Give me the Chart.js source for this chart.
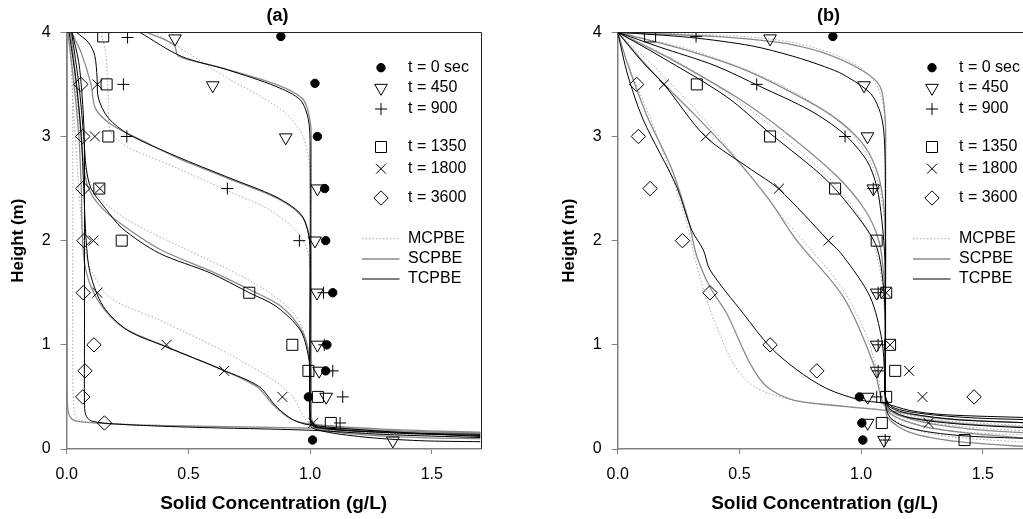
<!DOCTYPE html>
<html>
<head>
<meta charset="utf-8">
<script src="https://cdn.jsdelivr.net/npm/chart.js"></script>
<style>
  html, body { margin: 0; padding: 0; background: #fff; overflow: hidden; }
  #wrap { position: relative; width: 1023px; height: 519px; overflow: hidden; }
  canvas { position: absolute; top: 0; }
  #chart-a { left: 0; }
  #chart-b { left: 551px; }
</style>
</head>
<body>
<div id="wrap">
  <canvas id="chart-a" width="510" height="519"></canvas>
  <canvas id="chart-b" width="510" height="519"></canvas>
</div>
<script>
const FONT = "'Liberation Sans', Arial, Helvetica, sans-serif";

const xTickValues = [0, 0.5, 1.0, 1.5];
const yTickValues = [0, 1, 2, 3, 4];
const timeLabels = ['t = 0 sec', 't = 450', 't = 900', 't = 1350', 't = 1800', 't = 3600'];
const modelLabels = ['MCPBE', 'SCPBE', 'TCPBE'];

// ---- panel (a): measured points [conc, height]
const a_t0 = [[0.88, 3.96], [1.02, 3.51], [1.03, 3.0], [1.06, 2.5], [1.064, 2.0], [1.093, 1.5], [1.069, 1.0], [1.064, 0.75], [0.993, 0.5], [1.01, 0.086]];
const a_t450 = [[0.445, 3.94], [0.60, 3.49], [0.90, 2.99], [1.03, 2.5], [1.02, 2.0], [1.028, 1.5], [1.03, 1.0], [1.037, 0.75], [1.066, 0.5], [1.34, 0.08]];
const a_t900 = [[0.25, 3.95], [0.233, 3.5], [0.247, 3.0], [0.66, 2.5], [0.956, 2.0], [1.055, 1.5], [1.058, 1.0], [1.093, 0.75], [1.134, 0.5], [1.123, 0.25]];
const a_t1350 = [[0.15, 3.96], [0.164, 3.5], [0.171, 3.0], [0.134, 2.5], [0.226, 2.0], [0.75, 1.5], [0.927, 1.0], [0.993, 0.75], [1.032, 0.5], [1.085, 0.25]];
const a_t1800 = [[0.126, 3.5], [0.116, 3.0], [0.136, 2.5], [0.11, 2.0], [0.126, 1.5], [0.41, 1.0], [0.647, 0.75], [0.886, 0.5], [1.013, 0.25]];
const a_t3600 = [[0.058, 3.5], [0.066, 3.0], [0.066, 2.5], [0.071, 2.0], [0.068, 1.5], [0.112, 1.0], [0.075, 0.75], [0.066, 0.5], [0.155, 0.25]];

// ---- panel (a): model curves
const a450mc = [[0.36, 4.0], [0.5, 3.8], [0.66, 3.56], [0.8, 3.38], [0.9, 3.22], [0.96, 3.05], [0.99, 2.85], [1.0, 2.6], [1.0, 0.3], [1.02, 0.2], [1.3, 0.15], [1.7, 0.13]];
const a900mc = [[0.14, 4.0], [0.16, 3.8], [0.17, 3.4], [0.18, 3.05], [0.25, 2.9], [0.45, 2.7], [0.66, 2.48], [0.83, 2.3], [0.94, 2.1], [0.99, 1.9], [1.0, 1.6], [1.0, 0.3], [1.02, 0.2], [1.3, 0.15], [1.7, 0.13]];
const a1350mc = [[0.02, 4.0], [0.04, 3.4], [0.06, 2.9], [0.09, 2.6], [0.14, 2.4], [0.25, 2.2], [0.45, 1.96], [0.65, 1.74], [0.82, 1.52], [0.94, 1.28], [0.99, 1.0], [1.0, 0.7], [1.0, 0.3], [1.03, 0.2], [1.4, 0.15], [1.7, 0.13]];
const a1800mc = [[0.01, 4.0], [0.03, 3.2], [0.05, 2.5], [0.07, 2.0], [0.1, 1.72], [0.18, 1.45], [0.38, 1.24], [0.66, 0.92], [0.85, 0.66], [0.93, 0.5], [0.97, 0.32], [1.0, 0.25], [1.3, 0.18], [1.7, 0.14]];
const a3600mc = [[0.02, 4.0], [0.025, 3.0], [0.025, 2.0], [0.025, 1.0], [0.03, 0.38], [0.05, 0.28], [0.15, 0.25], [0.5, 0.22], [1.0, 0.2], [1.3, 0.16], [1.7, 0.14]];

const a450sc = [[0.33, 4.0], [0.44, 3.88], [0.46, 3.77], [0.62, 3.67], [0.86, 3.5], [0.97, 3.36], [1.0, 3.15], [1.005, 2.9], [1.005, 0.3], [1.02, 0.2], [1.2, 0.14], [1.45, 0.11], [1.7, 0.1]];
const a900sc = [[0.02, 4.0], [0.06, 3.8], [0.1, 3.5], [0.118, 3.27], [0.186, 3.11], [0.32, 2.95], [0.46, 2.79], [0.66, 2.6], [0.87, 2.4], [0.97, 2.22], [1.0, 2.0], [1.005, 1.8], [1.005, 0.3], [1.02, 0.21], [1.3, 0.17], [1.7, 0.16]];
const a1350sc = [[0.015, 4.0], [0.04, 3.5], [0.06, 3.0], [0.07, 2.7], [0.09, 2.5], [0.13, 2.35], [0.2, 2.2], [0.38, 1.92], [0.59, 1.71], [0.76, 1.52], [0.88, 1.37], [0.97, 1.12], [1.0, 0.85], [1.005, 0.6], [1.005, 0.3], [1.03, 0.22], [1.4, 0.17], [1.7, 0.15]];
const a1800sc = [[0.005, 4.0], [0.03, 3.5], [0.05, 3.0], [0.06, 2.5], [0.065, 2.0], [0.08, 1.7], [0.13, 1.42], [0.23, 1.17], [0.4, 0.99], [0.63, 0.77], [0.78, 0.6], [0.85, 0.42], [0.92, 0.29], [1.0, 0.24], [1.3, 0.19], [1.7, 0.16]];
const a3600sc = [[0.002, 4.0], [0.002, 3.0], [0.002, 2.0], [0.002, 1.0], [0.004, 0.4], [0.02, 0.29], [0.06, 0.26], [0.3, 0.23], [1.0, 0.2], [1.3, 0.17], [1.7, 0.15]];

const a450tc = [[0.30, 4.0], [0.47, 3.77], [0.66, 3.64], [0.86, 3.48], [0.96, 3.35], [0.993, 3.16], [1.0, 2.9], [1.0, 1.0], [1.0, 0.3], [1.01, 0.2], [1.2, 0.12], [1.45, 0.08], [1.7, 0.07]];
const a900tc = [[0.04, 4.0], [0.09, 3.9], [0.115, 3.78], [0.125, 3.56], [0.13, 3.37], [0.17, 3.18], [0.255, 3.02], [0.45, 2.81], [0.66, 2.61], [0.86, 2.42], [0.96, 2.26], [0.99, 2.1], [1.0, 1.9], [1.0, 0.3], [1.02, 0.21], [1.3, 0.16], [1.7, 0.14]];
const a1350tc = [[0.02, 4.0], [0.05, 3.5], [0.07, 3.0], [0.08, 2.7], [0.1, 2.5], [0.159, 2.31], [0.227, 2.12], [0.38, 1.88], [0.59, 1.69], [0.75, 1.5], [0.86, 1.37], [0.96, 1.14], [0.993, 0.89], [1.0, 0.7], [1.0, 0.3], [1.03, 0.21], [1.4, 0.15], [1.7, 0.13]];
const a1800tc = [[0.01, 4.0], [0.04, 3.5], [0.06, 3.0], [0.07, 2.5], [0.08, 2.0], [0.096, 1.69], [0.15, 1.37], [0.25, 1.14], [0.41, 0.98], [0.64, 0.76], [0.79, 0.6], [0.86, 0.41], [0.93, 0.28], [1.0, 0.23], [1.3, 0.17], [1.7, 0.12]];
const a3600tc = [[0.022, 4.0], [0.049, 3.72], [0.063, 3.4], [0.072, 3.0], [0.073, 2.0], [0.073, 1.0], [0.073, 0.45], [0.078, 0.33], [0.1, 0.27], [0.2, 0.24], [0.5, 0.21], [1.0, 0.18], [1.3, 0.14], [1.7, 0.11]];

// ---- panel (b): measured points
const b_t0 = [[0.884, 3.96], [0.993, 0.5], [1.003, 0.25], [1.007, 0.086]];
const b_t450 = [[0.626, 3.94], [1.012, 3.49], [1.026, 3.0], [1.05, 2.5], [1.064, 1.5], [1.064, 1.0], [1.064, 0.75], [1.027, 0.5], [1.027, 0.25], [1.094, 0.086]];
const b_t900 = [[0.322, 3.96], [0.571, 3.5], [0.934, 3.0], [1.05, 2.5], [1.07, 1.5], [1.07, 1.0], [1.07, 0.75], [1.064, 0.5], [1.099, 0.086]];
const b_t1350 = [[0.133, 3.96], [0.325, 3.5], [0.626, 3.0], [0.893, 2.5], [1.064, 2.0], [1.103, 1.5], [1.119, 1.0], [1.14, 0.75], [1.103, 0.5], [1.085, 0.25], [1.425, 0.086]];
const b_t1800 = [[0.19, 3.5], [0.362, 3.0], [0.663, 2.5], [0.866, 2.0], [1.103, 1.5], [1.119, 1.0], [1.197, 0.75], [1.252, 0.5], [1.277, 0.25]];
const b_t3600 = [[0.078, 3.5], [0.085, 3.0], [0.133, 2.5], [0.266, 2.0], [0.379, 1.5], [0.626, 1.0], [0.818, 0.75], [1.464, 0.5]];

// ---- panel (b): model curves
const b450mc = [[0, 4], [0.45, 3.97], [0.7, 3.91], [0.9, 3.78], [1.03, 3.6], [1.08, 3.4], [1.1, 3.1], [1.1, 2.0], [1.1, 0.45], [1.12, 0.3], [1.3, 0.14], [1.7, 0.06]];
const b900mc = [[0, 4], [0.3, 3.83], [0.55, 3.62], [0.76, 3.38], [0.93, 3.1], [1.03, 2.8], [1.08, 2.45], [1.1, 2.0], [1.1, 0.5], [1.13, 0.32], [1.35, 0.18], [1.7, 0.13]];
const b1350mc = [[0, 4], [0.26, 3.7], [0.52, 3.3], [0.73, 2.9], [0.9, 2.52], [1.0, 2.2], [1.06, 1.9], [1.09, 1.5], [1.1, 1.0], [1.1, 0.5], [1.14, 0.33], [1.4, 0.22], [1.7, 0.17]];
const b1800mc = [[0, 4], [0.18, 3.6], [0.36, 3.15], [0.52, 2.7], [0.65, 2.3], [0.78, 1.95], [0.92, 1.55], [1.02, 1.1], [1.07, 0.7], [1.09, 0.45], [1.15, 0.33], [1.4, 0.25], [1.7, 0.21]];
const b3600mc = [[0, 4], [0.05, 3.65], [0.13, 3.2], [0.21, 2.7], [0.28, 2.2], [0.32, 1.8], [0.37, 1.4], [0.42, 1.1], [0.48, 0.8], [0.56, 0.6], [0.7, 0.48], [0.9, 0.42], [1.1, 0.37], [1.3, 0.28], [1.7, 0.22]];

const b450sc = [[0, 4], [0.4, 3.96], [0.6, 3.92], [0.72, 3.88], [0.85, 3.8], [1.0, 3.64], [1.078, 3.48], [1.099, 3.16], [1.1, 2.8], [1.1, 1.0], [1.1, 0.45], [1.11, 0.3], [1.2, 0.16], [1.4, 0.07], [1.7, 0.02]];
const b900sc = [[0, 4], [0.25, 3.85], [0.5, 3.66], [0.7, 3.44], [0.88, 3.2], [1.0, 2.95], [1.06, 2.7], [1.09, 2.4], [1.1, 2.0], [1.1, 0.5], [1.12, 0.34], [1.25, 0.22], [1.45, 0.15], [1.7, 0.1]];
const b1350sc = [[0, 4], [0.22, 3.74], [0.5, 3.36], [0.7, 3.02], [0.9, 2.62], [1.02, 2.28], [1.075, 1.98], [1.095, 1.6], [1.1, 1.2], [1.1, 0.5], [1.12, 0.37], [1.25, 0.26], [1.45, 0.19], [1.7, 0.15]];
const b1800sc = [[0, 4], [0.15, 3.6], [0.32, 3.2], [0.48, 2.8], [0.62, 2.4], [0.736, 2.0], [0.927, 1.46], [1.05, 0.82], [1.09, 0.44], [1.15, 0.33], [1.3, 0.27], [1.5, 0.23], [1.7, 0.21]];
const b3600sc = [[0, 4], [0.04, 3.7], [0.12, 3.2], [0.22, 2.7], [0.29, 2.2], [0.325, 1.85], [0.38, 1.55], [0.448, 1.3], [0.544, 0.82], [0.612, 0.6], [0.722, 0.47], [0.927, 0.41], [1.105, 0.37], [1.3, 0.3], [1.5, 0.27], [1.7, 0.25]];

const b450tc = [[0, 4], [0.3, 3.95], [0.55, 3.87], [0.72, 3.77], [0.85, 3.67], [0.93, 3.59], [1.04, 3.41], [1.08, 3.22], [1.095, 3.0], [1.1, 2.5], [1.1, 1.0], [1.1, 0.45], [1.12, 0.3], [1.2, 0.2], [1.4, 0.13], [1.7, 0.1]];
const b900tc = [[0, 4], [0.17, 3.86], [0.4, 3.68], [0.585, 3.48], [0.79, 3.25], [0.927, 3.03], [1.023, 2.77], [1.064, 2.52], [1.085, 2.2], [1.098, 1.8], [1.1, 1.0], [1.1, 0.5], [1.12, 0.38], [1.2, 0.3], [1.4, 0.24], [1.7, 0.2]];
const b1350tc = [[0, 4], [0.174, 3.77], [0.448, 3.38], [0.626, 3.03], [0.859, 2.58], [0.996, 2.2], [1.064, 1.94], [1.09, 1.6], [1.1, 1.2], [1.1, 0.5], [1.12, 0.4], [1.2, 0.34], [1.4, 0.28], [1.7, 0.25]];
const b1800tc = [[0, 4], [0.1, 3.72], [0.19, 3.5], [0.36, 3.0], [0.55, 2.68], [0.66, 2.5], [0.866, 2.0], [0.927, 1.85], [1.037, 1.46], [1.085, 1.05], [1.097, 0.7], [1.1, 0.5], [1.13, 0.4], [1.25, 0.34], [1.45, 0.3], [1.7, 0.28]];
const b3600tc = [[0, 4], [0.04, 3.6], [0.105, 3.16], [0.242, 2.52], [0.304, 2.1], [0.352, 1.91], [0.379, 1.72], [0.516, 1.3], [0.626, 0.98], [0.736, 0.76], [0.859, 0.58], [0.996, 0.47], [1.092, 0.44], [1.2, 0.37], [1.338, 0.33], [1.7, 0.3]];

// styles
const markerStyles = [
  { pointStyle: 'circle', radius: 4.2, rotation: 0, fill: '#000' },
  { pointStyle: 'triangle', radius: 7.3, rotation: 180 },
  { pointStyle: 'cross', radius: 6, rotation: 0 },
  { pointStyle: 'rect', radius: 7.8, rotation: 0 },
  { pointStyle: 'crossRot', radius: 7, rotation: 0 },
  { pointStyle: 'rectRot', radius: 7.2, rotation: 0 }
];
const modelStyles = [
  { color: '#a8a8a8', width: 1, dash: [1.5, 2] },
  { color: '#8a8a8a', width: 1.3, dash: [] },
  { color: '#000000', width: 1, dash: [] }
];

const toPts = (arr) => arr.map(([x, y]) => ({ x, y }));

const buildDatasets = (curveSets, markerSets) => {
  const ds = [];
  curveSets.forEach((set, m) => {
    const st = modelStyles[m];
    set.forEach((c) => ds.push({
      data: toPts(c),
      showLine: true,
      pointRadius: 0,
      borderColor: st.color,
      borderWidth: st.width,
      borderDash: st.dash,
      tension: 0.3,
      fill: false,
      order: 3 - m
    }));
  });
  markerSets.forEach((set, i) => {
    const ms = markerStyles[i];
    ds.push({
      data: toPts(set),
      showLine: false,
      pointStyle: ms.pointStyle,
      pointRadius: ms.radius,
      pointRotation: ms.rotation,
      pointBackgroundColor: ms.fill || 'rgba(0,0,0,0)',
      pointBorderColor: '#000',
      pointBorderWidth: 1,
      order: 0
    });
  });
  return ds;
};

// title, frame and legend drawn on top of the plot
const legendRowsTime = [35.4, 55.7, 76.7, 114.7, 136.4, 165.7];
const legendRowsModel = [206.4, 226.7, 246.7];

const panelDecor = {
  id: 'panelDecor',
  afterDraw(chart, args, opts) {
    const { ctx, chartArea: ca } = chart;
    ctx.save();
    ctx.strokeStyle = '#222';
    ctx.lineWidth = 1;
    ctx.setLineDash([]);
    ctx.beginPath();
    ctx.moveTo(ca.left, Math.round(ca.top) + 0.5);
    ctx.lineTo(Math.round(ca.right) + 0.5, Math.round(ca.top) + 0.5);
    ctx.lineTo(Math.round(ca.right) + 0.5, ca.bottom);
    ctx.stroke();

    ctx.fillStyle = '#000';
    ctx.font = `bold 18px ${FONT}`;
    ctx.textAlign = 'center';
    ctx.textBaseline = 'middle';
    ctx.fillText(opts.title, (ca.left + ca.right) / 2 + 4, 16);

    const mx = ca.right - 99.5;
    const tx = ca.right - 72.5;
    ctx.font = `16px ${FONT}`;
    ctx.textAlign = 'left';
    timeLabels.forEach((label, i) => {
      const y = ca.top + legendRowsTime[i];
      const ms = markerStyles[i];
      ctx.fillStyle = ms.fill || 'rgba(0,0,0,0)';
      ctx.strokeStyle = '#000';
      ctx.lineWidth = 1;
      Chart.helpers.drawPoint(ctx, { pointStyle: ms.pointStyle, radius: ms.radius, rotation: ms.rotation, borderWidth: 1 }, mx, y);
      ctx.fillStyle = '#000';
      ctx.fillText(label, tx, y);
    });
    modelLabels.forEach((label, i) => {
      const y = ca.top + legendRowsModel[i];
      const st = modelStyles[i];
      ctx.strokeStyle = st.color;
      ctx.lineWidth = st.width;
      ctx.setLineDash(st.dash);
      ctx.beginPath();
      ctx.moveTo(ca.right - 118.5, y);
      ctx.lineTo(ca.right - 81, y);
      ctx.stroke();
      ctx.setLineDash([]);
      ctx.fillStyle = '#000';
      ctx.fillText(label, tx, y);
    });
    ctx.restore();
  }
};

const makePanel = (canvasId, title, curveSets, markerSets) => new Chart(document.getElementById(canvasId), {
  type: 'scatter',
  data: { datasets: buildDatasets(curveSets, markerSets) },
  plugins: [panelDecor],
  options: {
    responsive: false,
    animation: false,
    events: [],
    layout: { padding: { left: 0, right: 29.5, top: 32.3, bottom: 0 } },
    plugins: {
      legend: { display: false },
      tooltip: { enabled: false },
      panelDecor: { title }
    },
    scales: {
      x: {
        type: 'linear',
        min: 0,
        max: 1.7,
        afterBuildTicks: (s) => { s.ticks = xTickValues.map((v) => ({ value: v })); },
        afterFit: (s) => { s.height = 70; },
        ticks: { callback: (v) => Number(v).toFixed(1), color: '#000', font: { family: FONT, size: 16 }, padding: 11, maxRotation: 0 },
        grid: { drawOnChartArea: false, drawTicks: true, tickLength: 5, color: '#808080' },
        border: { color: '#808080', width: 1.5 },
        title: { display: true, text: 'Solid Concentration (g/L)', color: '#000', font: { family: FONT, size: 19, weight: 'bold' }, padding: { top: 0, bottom: 4 } }
      },
      y: {
        type: 'linear',
        min: 0,
        max: 4,
        afterBuildTicks: (s) => { s.ticks = yTickValues.map((v) => ({ value: v })); },
        afterFit: (s) => { s.width = 66.7; },
        ticks: { callback: (v) => String(v), color: '#000', font: { family: FONT, size: 16 }, padding: 10 },
        grid: { drawOnChartArea: false, drawTicks: true, tickLength: 6, color: '#808080' },
        border: { color: '#808080', width: 1.5 },
        title: { display: true, text: 'Height (m)', color: '#000', font: { family: FONT, size: 17, weight: 'bold' }, padding: { top: 8, bottom: 0 } }
      }
    }
  }
});

makePanel('chart-a', '(a)',
  [[a450mc, a900mc, a1350mc, a1800mc, a3600mc], [a450sc, a900sc, a1350sc, a1800sc, a3600sc], [a450tc, a900tc, a1350tc, a1800tc, a3600tc]],
  [a_t0, a_t450, a_t900, a_t1350, a_t1800, a_t3600]);

makePanel('chart-b', '(b)',
  [[b450mc, b900mc, b1350mc, b1800mc, b3600mc], [b450sc, b900sc, b1350sc, b1800sc, b3600sc], [b450tc, b900tc, b1350tc, b1800tc, b3600tc]],
  [b_t0, b_t450, b_t900, b_t1350, b_t1800, b_t3600]);
</script>
</body>
</html>
